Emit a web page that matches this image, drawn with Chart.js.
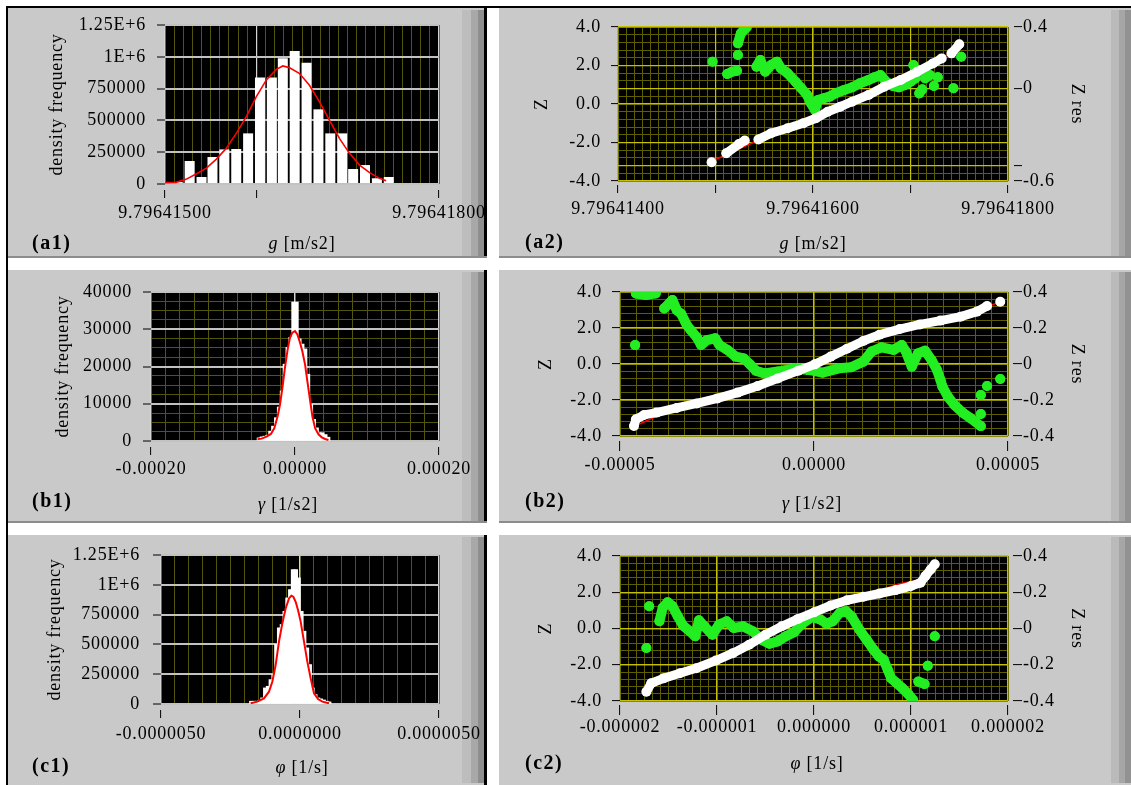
<!DOCTYPE html>
<html>
<head>
<meta charset="utf-8">
<title>g, gamma, phi – histograms and normal plots</title>
<script src="https://cdn.jsdelivr.net/npm/chart.js@4.4.1/dist/chart.umd.min.js"></script>
<style>
  body { margin: 0; background: #fff; font-family: 'Liberation Serif', 'Times New Roman', serif; }
  #page { position: relative; width: 1131px; height: 785px; overflow: hidden; }
  .bar { position: absolute; background: #000; }
  .panel { position: absolute; background: #c9c9c9; }
  .panel .edge { position: absolute; left: 0; right: 0; bottom: 0; height: 2px; background: #8c8c8c; }
  .panel .rb { position: absolute; right: 0; top: 0; bottom: 0; width: 3px; background: #000; }
  .panel .strip { position: absolute; top: 2px; bottom: 2px; }
  .left .strip { right: 3px; width: 22px; background: linear-gradient(90deg, #bdbdbd 0 9px, #a8a8a8 9px 16px, #8e8e8e 16px 22px); }
  .right .strip { right: 0; width: 20px; background: linear-gradient(90deg, #bababa 0 8px, #a6a6a6 8px 14px, #929292 14px 20px); }
  canvas { position: absolute; }
  .tag { position: absolute; font-weight: bold; font-size: 20px; letter-spacing: 1.5px; transform: translateY(-50%); white-space: nowrap; }
  .xt { position: absolute; font-size: 18px; letter-spacing: 0.8px; transform: translate(-50%, -50%); white-space: nowrap; }
</style>
</head>
<body>
<div id="page">
  <div class="bar" style="left:6px;top:6px;width:1125px;height:2px"></div>
  <div class="bar" style="left:6px;top:6px;width:2px;height:779px"></div>

  <div class="panel left" style="left:8px;top:8px;width:479px;height:250px"><div class="strip"></div><div class="rb"></div><div class="edge"></div></div>
  <div class="panel left" style="left:8px;top:270px;width:479px;height:253px"><div class="strip"></div><div class="rb"></div><div class="edge"></div></div>
  <div class="panel left" style="left:8px;top:535px;width:479px;height:250px"><div class="strip"></div><div class="rb"></div></div>
  <div class="panel right" style="left:499px;top:8px;width:632px;height:250px"><div class="strip"></div><div class="edge"></div></div>
  <div class="panel right" style="left:499px;top:270px;width:632px;height:253px"><div class="strip"></div><div class="edge"></div></div>
  <div class="panel right" style="left:499px;top:535px;width:632px;height:250px"><div class="strip"></div></div>

  <canvas id="a1" width="478" height="249" style="left:9px;top:9px"></canvas>
  <canvas id="b1" width="478" height="252" style="left:9px;top:271px"></canvas>
  <canvas id="c1" width="478" height="250" style="left:9px;top:535px"></canvas>
  <canvas id="a2" width="632" height="249" style="left:499px;top:9px"></canvas>
  <canvas id="b2" width="632" height="252" style="left:499px;top:271px"></canvas>
  <canvas id="c2" width="632" height="250" style="left:499px;top:535px"></canvas>

  <div class="tag" style="left:32px;top:242px">(a1)</div>
  <div class="tag" style="left:525px;top:241px">(a2)</div>
  <div class="tag" style="left:32px;top:500px">(b1)</div>
  <div class="tag" style="left:525px;top:500px">(b2)</div>
  <div class="tag" style="left:32px;top:765px">(c1)</div>
  <div class="tag" style="left:525px;top:762px">(c2)</div>

  <div class="xt" style="left:302px;top:243px"><i>g</i> [m/s2]</div>
  <div class="xt" style="left:813px;top:243px"><i>g</i> [m/s2]</div>
  <div class="xt" style="left:288px;top:504px"><i>γ</i> [1/s2]</div>
  <div class="xt" style="left:812px;top:503px"><i>γ</i> [1/s2]</div>
  <div class="xt" style="left:302px;top:767px"><i>φ</i> [1/s]</div>
  <div class="xt" style="left:817px;top:763px"><i>φ</i> [1/s]</div>
</div>

<script>
// ---- data ---------------------------------------------------------------
// g axes (a1, a2): x in 1e-8 m/s2 above 9.796414
// gamma axes (b1, b2): x in 1e-6 1/s2
// phi axes (c1, c2): x in 1e-8 1/s

// (a1) histogram of g
const a1BinX = [101, 114, 127, 140, 152, 165, 178, 191, 204, 217, 229, 242, 255, 268, 281, 294, 306, 319, 332, 345];
const a1BinY = [13000, 15000, 181000, 55000, 212000, 272000, 275000, 398000, 838000, 838000, 988000, 1045000, 954000, 587000, 398000, 398000, 118000, 149000, 45000, 55000];
const a1FitX = [100, 112, 123, 134, 145, 156, 167, 178, 189, 200, 211, 222, 229, 236, 247, 258, 269, 280, 291, 302, 313, 324, 335, 342];
const a1FitY = [10500, 13100, 36700, 78600, 123000, 194000, 280000, 398000, 529000, 687000, 818000, 901000, 928000, 915000, 870000, 778000, 647000, 503000, 359000, 241000, 149000, 89000, 44500, 26200];

// (b1) histogram of gamma
const b1BinX = [-50, -46, -42, -38, -34, -30, -26, -22, -18, -14, -10, -6, -2, 2, 6, 10, 14, 18, 22, 26, 30, 34, 38, 42, 46];
const b1BinY = [720, 990, 1170, 1440, 2520, 3870, 6130, 9000, 13300, 20500, 25000, 27700, 37200, 37200, 27300, 25900, 24600, 17800, 9700, 5700, 3400, 2100, 2100, 1600, 900];
const b1FitX = [-52.1, -46.5, -39.5, -33.5, -28.8, -24.2, -20.9, -17.2, -14.0, -10.2, -7.0, -3.7, 0, 3.3, 7.0, 10.2, 14.0, 17.2, 20.9, 24.2, 27.9, 32.6, 37.2, 41.9, 46.5];
const b1FitY = [450, 630, 1170, 1890, 3420, 6580, 9730, 14700, 19600, 24600, 27700, 29100, 29500, 28600, 26400, 24100, 20500, 16000, 11000, 6580, 3420, 1800, 990, 540, 270];

// (c1) histogram of phi
const c1BinX = [-175, -165, -155, -145, -135, -125, -115, -105, -95, -85, -75, -65, -55, -45, -35, -25, -15, -5, 5, 15, 25, 35, 45, 55, 65, 75, 85, 95, 105];
const c1BinY = [19600, 19600, 19600, 25000, 47500, 131000, 145000, 201000, 243000, 495000, 635000, 663000, 774000, 886000, 956000, 1124000, 1124000, 1054000, 774000, 607000, 467000, 327000, 131000, 75000, 47500, 39000, 30000, 19600, 14000];
const c1FitX = [-177.6, -153.6, -129.6, -111.6, -99.6, -87.6, -75.6, -63.6, -51.6, -39.6, -31.2, -24, -15.6, -7.2, 2.4, 14.4, 26.4, 38.4, 50.4, 64.8, 80.4, 104.4];
const c1FitY = [5600, 19600, 47500, 103000, 187000, 327000, 523000, 676000, 802000, 886000, 909000, 900000, 858000, 788000, 691000, 523000, 355000, 215000, 89000, 42000, 19600, 5600];

// (a2) normal plot of g: [x, Z] white, [x, Z res] green, null = break
const a2White = [[96, -3.03], null, [111, -2.56], [124, -2.08], [130, -1.90], null,
  [144, -1.84], [157, -1.52], [174, -1.26], [190, -1.00], [203, -0.74], [215, -0.40], [228, -0.14], [240, 0.12],
  [257, 0.47], [273, 0.90], [290, 1.25], [307, 1.68], [323, 2.11], [332, 2.37], null, [342, 2.63], [350, 3.10]];
const a2Fit = [[95, -3.0], [352, 2.88]];
const a2Green = [[97, 0.175], null, [112, 0.095], [117, 0.110], [122, 0.116], null, [123, 0.218], null,
  [123, 0.294], [126, 0.359], [129, 0.380], [132, 0.398], null,
  [142, 0.142], [146, 0.186], [151, 0.110], [157, 0.153], [163, 0.175], [167, 0.132], [174, 0.099], [182, 0.045],
  [188, 0.002], [194, -0.042], [198, -0.096], [202, -0.139], [205, -0.074], [211, -0.063], [217, -0.052], [223, -0.031],
  [232, -0.009], [240, 0.008], [248, 0.034], [257, 0.056], [263, 0.073], [269, 0.088], [275, 0.045], [282, 0.017],
  [288, 0.008], [294, 0.023], [300, 0.045], [305, 0.067], null,
  [303, 0.153], null, [309, -0.031], [312, -0.005], null, [315, 0.067], [320, 0.088], null, [324, 0.017], null,
  [328, 0.073], null, [344, 0.002], null, [352, 0.207]];

// (b2) normal plot of gamma
const b2White = [[-46.4, -3.44], [-45.9, -3.07], [-43.8, -2.83], [-40.6, -2.70], [-35.4, -2.44], [-30.2, -2.19],
  [-24.9, -1.91], [-19.7, -1.59], [-14.5, -1.22], [-9.3, -0.80], [-4.0, -0.37], [0.2, -0.02], [4.3, 0.41], [8.5, 0.85],
  [12.7, 1.28], [16.9, 1.63], [22.1, 1.94], [27.3, 2.20], [32.6, 2.41], [37.8, 2.63], [42.0, 2.91], [44.6, 3.22], null, [48.0, 3.46]];
const b2Fit = [[-47, -3.53], [-41, -2.95], [0, -0.05], [22, 1.9], [41.5, 2.96], [47, 3.37]];
const b2Green = [[-45.9, 0.392], [-43.3, 0.383], [-40.8, 0.392], null, [-46.1, 0.105], null,
  [-38.6, 0.309], [-36.5, 0.356], [-35.4, 0.300], [-34.2, 0.278], [-32.8, 0.217], [-31.8, 0.189], [-30.2, 0.148],
  [-29.1, 0.106], [-27.6, 0.133], [-25.5, 0.143], [-24.4, 0.106], [-22.3, 0.078], [-20.2, 0.041], [-18.1, 0.031],
  [-16.6, 0.000], [-15.0, -0.037], [-12.9, -0.052], [-9.3, -0.042], [-5.1, -0.024], [-1.4, -0.033], [2.2, -0.048],
  [6.4, -0.024], [9.6, -0.018], [12.7, 0.013], [14.8, 0.069], [17.4, 0.093], [20.5, 0.078], [22.6, 0.106],
  [23.7, 0.069], [25.2, -0.015], [26.8, 0.059], [28.6, 0.074], [30.3, 0.022], [31.7, -0.033], [32.6, -0.089],
  [33.1, -0.126], [34.5, -0.181], [36.2, -0.228], [38.3, -0.270], [40.4, -0.302], [43.0, -0.345], null,
  [43.0, -0.278], null, [43.0, -0.172], null, [44.6, -0.122], null, [48.0, -0.083]];

// (c2) normal plot of phi
const c2White = [[-172.8, -3.49], [-167.8, -3.02], [-155.2, -2.75], [-138.3, -2.47], [-121.5, -2.19], [-101.3, -1.77],
  [-83.7, -1.36], [-66.9, -0.90], [-50.0, -0.34], [-33.2, 0.12], [-16.4, 0.53], [0.4, 0.90], [17.2, 1.27], [34.1, 1.56],
  [50.9, 1.75], [67.7, 1.93], [84.5, 2.12], [100.1, 2.34], [109.8, 2.52], [114.8, 2.89], [120.3, 3.26], [124.5, 3.54]];
const c2Fit = [[-173, -3.17], [-160, -2.95], [0, 0.8], [87, 2.45], [112, 2.72], [125, 3.44]];
const c2Green = [[-169.9, 0.123], null, [-172.8, -0.108], null,
  [-159.4, 0.040], [-156.0, 0.114], [-150.9, 0.145], [-145.9, 0.123], [-140.4, 0.067], [-135.0, 0.016], [-127.8, -0.016],
  [-122.4, -0.043], [-118.6, 0.045], [-113.1, 0.012], [-104.7, -0.034], [-98.0, 0.021], [-90.0, 0.040], [-82.8, 0.003],
  [-73.2, 0.012], [-62.7, -0.016], [-54.2, -0.062], [-45.8, -0.084], [-37.4, -0.071], [-29.0, -0.043], [-20.6, -0.021],
  [-12.2, 0.027], [-1.7, 0.064], [6.7, 0.049], [13.0, 0.027], [19.3, 0.040], [26.5, 0.086], [33.2, 0.095], [39.1, 0.064],
  [46.7, -0.006], [54.2, -0.062], [61.4, -0.117], [66.9, -0.154], [71.9, -0.173], [76.1, -0.228], [79.5, -0.274],
  [85.4, -0.302], [91.2, -0.330], [97.1, -0.361], [102.2, -0.395], null,
  [107.6, -0.293], [114.0, -0.306], null, [117.3, -0.206], null, [124.5, -0.043]];

// ---- ticks ----------------------------------------------------------------
const freqTicks = [0, 250000, 500000, 750000, 1000000, 1250000];
const freqLabels = ['0', '250000', '500000', '750000', '1E+6', '1.25E+6'];
const b1YTicks = [0, 10000, 20000, 30000, 40000];
const b1YLabels = ['0', '10000', '20000', '30000', '40000'];
const a1XTicks = [100, 200, 400];
const a1XLabels = ['9.79641500', '', '9.79641800'];
const b1XTicks = [-200, 0, 200];
const b1XLabels = ['-0.00020', '0.00000', '0.00020'];
const c1XTicks = [-500, 0, 500];
const c1XLabels = ['-0.0000050', '0.0000000', '0.0000050'];
const a2XTicks = [0, 100, 200, 300, 400];
const a2XLabels = ['9.79641400', '', '9.79641600', '', '9.79641800'];
const b2XTicks = [-50, 0, 50];
const b2XLabels = ['-0.00005', '0.00000', '0.00005'];
const c2XTicks = [-200, -100, 0, 100, 200];
const c2XLabels = ['-0.000002', '-0.000001', '0.000000', '0.000001', '0.000002'];
const zTicks = [-4, -2, 0, 2, 4];
const zLabels = ['-4.0', '-2.0', '0.0', '2.0', '4.0'];
const a2ResTicks = [-0.6, -0.5, 0, 0.4];
const a2ResLabels = ['-0.6', '', '0', '0.4'];
const resTicks = [-0.4, -0.2, 0, 0.2, 0.4];
const resLabels = ['-0.4', '-0.2', '0', '0.2', '0.4'];

// ---- helpers ----------------------------------------------------------------
const SPACING = '0.8px';
Chart.defaults.font.family = "'Liberation Serif', 'Times New Roman', serif";
Chart.defaults.font.size = 18;
Chart.defaults.color = '#000';

Chart.register({
  id: 'plotBack',
  beforeUpdate(chart) { chart.ctx.letterSpacing = SPACING; },
  beforeDraw(chart) {
    const { ctx, chartArea: a } = chart;
    ctx.letterSpacing = SPACING;
    ctx.save();
    ctx.fillStyle = '#000';
    ctx.fillRect(a.left, a.top, a.width, a.height);
    ctx.restore();
  }
});

const pairs = (xs, ys) => xs.map((x, i) => ({ x, y: ys[i] }));
const pts = list => list.map(p => p ? { x: p[0], y: p[1] } : { x: null, y: null });
const steps = (min, max, step) => {
  const out = [];
  for (let i = 0; min + i * step <= max + step * 1e-6; i++) out.push(min + i * step);
  return out;
};

function axis(pos, a, grid, gridWidth) {
  const horizontal = pos === 'bottom';
  return {
    type: 'linear', position: pos, min: a.min, max: a.max, offset: false,
    afterBuildTicks: s => { s.ticks = a.ticks.map(v => ({ value: v })); },
    afterFit: s => {
      if (horizontal) { s.height = a.size; s.paddingLeft = 0; s.paddingRight = 0; }
      else { s.width = a.size; s.paddingTop = 0; s.paddingBottom = 0; }
    },
    border: { display: false },
    grid: {
      color: grid, lineWidth: gridWidth, offset: false,
      tickColor: '#000', tickWidth: 1, tickLength: a.tl,
      tickBorderDash: [0, a.gap, a.tl - a.gap, 80]
    },
    ticks: { autoSkip: false, maxRotation: 0, minRotation: 0, padding: a.pad, callback: (v, i) => a.labels[i] },
    title: a.title ? { display: true, text: a.title, padding: 0 } : { display: false }
  };
}

function minor(pos, min, max, step, color) {
  return {
    type: 'linear', position: pos, min, max, offset: false,
    afterBuildTicks: s => { s.ticks = steps(min, max, step).map(v => ({ value: v })); },
    afterFit: s => { if (pos === 'bottom') s.height = 0; else s.width = 0; },
    border: { display: false },
    grid: { color, lineWidth: 1, drawTicks: false, z: -2, offset: false },
    ticks: { display: false }
  };
}

const BASE = { responsive: false, animation: false, events: [],
  plugins: { legend: { display: false }, tooltip: { enabled: false } } };

function histogram(id, d) {
  const scales = {
    x: axis('bottom', d.x, '#d4d4d4', 1.2),
    xm: minor('bottom', d.x.min, d.x.max, d.minorX, '#54540a'),
    y: axis('left', d.y, '#c2c2c2', 2)
  };
  if (d.minorY) scales.ym = minor('left', d.y.min, d.y.max, d.minorY, '#54540a');
  new Chart(document.getElementById(id), {
    type: 'bar',
    data: {
      datasets: [
        { type: 'line', data: pairs(d.fitX, d.fitY), xAxisID: 'x', yAxisID: 'y', borderColor: '#ff0000',
          borderWidth: d.fitWidth, pointRadius: 0, tension: 0, order: 0 },
        { type: 'bar', data: pairs(d.binX, d.binY), xAxisID: 'x', yAxisID: 'y', backgroundColor: '#ffffff',
          borderWidth: 0, barThickness: d.barThickness, barPercentage: 1, categoryPercentage: 1,
          inflateAmount: d.inflate, order: 1 }
      ]
    },
    options: { ...BASE, layout: { padding: d.padding }, scales }
  });
}

function normalPlot(id, d) {
  new Chart(document.getElementById(id), {
    type: 'scatter',
    data: {
      datasets: [
        { data: pts(d.green), xAxisID: 'x', yAxisID: 'yr', showLine: true, borderColor: '#22ee22', backgroundColor: '#22ee22',
          borderWidth: 10, pointRadius: 5, pointBorderWidth: 0, borderCapStyle: 'round', borderJoinStyle: 'round', order: 3 },
        { data: pts(d.fit), xAxisID: 'x', yAxisID: 'y', showLine: true, borderColor: '#ff0000',
          borderWidth: 1.5, pointRadius: 0, order: 2 },
        { data: pts(d.white), xAxisID: 'x', yAxisID: 'y', showLine: true, borderColor: '#ffffff', backgroundColor: '#ffffff',
          borderWidth: 9, pointRadius: 5, pointBorderWidth: 0, borderCapStyle: 'round', borderJoinStyle: 'round', order: 1 }
      ]
    },
    options: {
      ...BASE, layout: { padding: d.padding },
      scales: {
        x: axis('bottom', d.x, '#c2c200', 1.2),
        xm: minor('bottom', d.x.min, d.x.max, d.minorX, '#5e5e00'),
        y: axis('left', d.y, '#c2c200', 1.2),
        ym: minor('left', d.y.min, d.y.max, 0.4, '#5e5e00'),
        yr: axis('right', d.yr, '#c2c200', 1.2)
      }
    }
  });
}

// ---- charts -------------------------------------------------------------
histogram('a1', {
  binX: a1BinX, binY: a1BinY, fitX: a1FitX, fitY: a1FitY, barThickness: 10, fitWidth: 1.6, inflate: 0,
  padding: { left: 37, right: 48, top: 16, bottom: 0 }, minorX: 10,
  x: { min: 100, max: 400, ticks: a1XTicks, labels: a1XLabels, size: 74, tl: 14, gap: 6, pad: 4 },
  y: { min: 0, max: 1250000, ticks: freqTicks, labels: freqLabels, size: 119, tl: 16, gap: 8, pad: 3, title: 'density frequency' }
});

histogram('b1', {
  binX: b1BinX, binY: b1BinY, fitX: b1FitX, fitY: b1FitY, fitWidth: 2, inflate: 0.8,
  padding: { left: 43, right: 48, top: 21, bottom: 0 }, minorX: 20, minorY: 2500,
  x: { min: -200, max: 200, ticks: b1XTicks, labels: b1XLabels, size: 82, tl: 14, gap: 6, pad: 3 },
  y: { min: 0, max: 40000, ticks: b1YTicks, labels: b1YLabels, size: 99, tl: 14, gap: 6, pad: 5, title: 'density frequency' }
});

histogram('c1', {
  binX: c1BinX, binY: c1BinY, fitX: c1FitX, fitY: c1FitY, fitWidth: 2, inflate: 0.8,
  padding: { left: 35, right: 48, top: 20, bottom: 0 }, minorX: 50,
  x: { min: -500, max: 500, ticks: c1XTicks, labels: c1XLabels, size: 81, tl: 14, gap: 6, pad: 5 },
  y: { min: 0, max: 1250000, ticks: freqTicks, labels: freqLabels, size: 117, tl: 14, gap: 6, pad: 7, title: 'density frequency' }
});

normalPlot('a2', {
  white: a2White, fit: a2Fit, green: a2Green, minorX: 100 / 12,
  padding: { left: 32, right: 43, top: 18, bottom: 0 },
  x: { min: 0, max: 400, ticks: a2XTicks, labels: a2XLabels, size: 77, tl: 12, gap: 4, pad: 5 },
  y: { min: -4, max: 4, ticks: zTicks, labels: zLabels, size: 87, tl: 12, gap: 5, pad: 5, title: 'Z' },
  yr: { min: -0.6, max: 0.4, ticks: a2ResTicks, labels: a2ResLabels, size: 80, tl: 14, gap: 6, pad: 1, title: 'Z res' }
});

normalPlot('b2', {
  white: b2White, fit: b2Fit, green: b2Green, minorX: 50 / 12,
  padding: { left: 36, right: 43, top: 21, bottom: 0 },
  x: { min: -50, max: 50, ticks: b2XTicks, labels: b2XLabels, size: 87, tl: 15, gap: 5, pad: 3 },
  y: { min: -4, max: 4, ticks: zTicks, labels: zLabels, size: 85, tl: 13, gap: 5, pad: 5, title: 'Z' },
  yr: { min: -0.4, max: 0.4, ticks: resTicks, labels: resLabels, size: 80, tl: 14, gap: 5, pad: 1, title: 'Z res' }
});

normalPlot('c2', {
  white: c2White, fit: c2Fit, green: c2Green, minorX: 100 / 12,
  padding: { left: 36, right: 43, top: 21, bottom: 0 },
  x: { min: -200, max: 200, ticks: c2XTicks, labels: c2XLabels, size: 84, tl: 14, gap: 4, pad: 1 },
  y: { min: -4, max: 4, ticks: zTicks, labels: zLabels, size: 85, tl: 13, gap: 5, pad: 5, title: 'Z' },
  yr: { min: -0.4, max: 0.4, ticks: resTicks, labels: resLabels, size: 80, tl: 14, gap: 5, pad: 1, title: 'Z res' }
});
</script>
</body>
</html>
